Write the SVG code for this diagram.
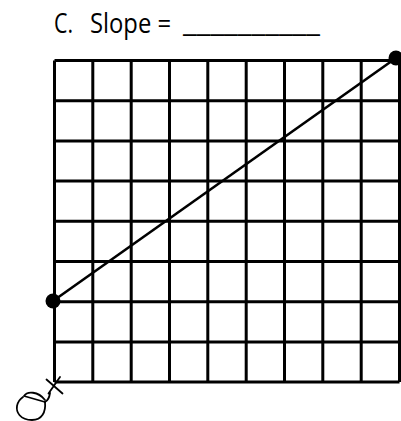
<svg xmlns="http://www.w3.org/2000/svg" width="401" height="421" viewBox="0 0 401 421">
<style>
.t{font-family:"Open Sans","Liberation Sans",sans-serif;font-size:27px;fill:#000}
.g{stroke:#000;stroke-width:3;fill:none}
.hw{stroke:#000;stroke-width:1.8;fill:none;stroke-linecap:round;stroke-linejoin:round}
</style>
<rect width="401" height="421" fill="#fff"/>
<g id="title">
<text class="t" x="54" y="33" textLength="19" lengthAdjust="spacingAndGlyphs">C.</text>
<text class="t" x="90" y="33" textLength="81" lengthAdjust="spacingAndGlyphs">Slope =</text>
<text class="t" x="183" y="32" textLength="137" lengthAdjust="spacingAndGlyphs">__________</text>
</g>
<g id="grid" class="g">
<path d="M54.5,60.5H399.5M54.5,100.7H399.5M54.5,140.9H399.5M54.5,181.1H399.5M54.5,221.3H399.5M54.5,261.5H399.5M54.5,301.7H399.5M54.5,341.9H399.5M54.5,382.1H399.5"/>
<path d="M54.5,60.5V382.1M92.8,60.5V382.1M131.2,60.5V382.1M169.5,60.5V382.1M207.8,60.5V382.1M246.2,60.5V382.1M284.5,60.5V382.1M322.8,60.5V382.1M361.2,60.5V382.1M399.5,60.5V382.1"/>
</g>
<g id="connectors">
<line x1="53" y1="301" x2="396" y2="58" stroke="#000" stroke-width="2.6"/>
</g>
<g id="point-a"><circle cx="53" cy="301" r="7.5" fill="#000"/></g>
<g id="point-b"><circle cx="396" cy="58" r="7.5" fill="#000"/></g>
<g id="handwriting" class="hw">
<path d="M46.5,379.5L62.5,393.5M48.5,393.5L60,377"/>
<path d="M50,393Q49,400 45,402"/>
<path d="M45,402L24,396C27,391 38,391 45,400"/>
<path d="M45,402C46,412 42,420 32,420C20,420 16,412 17,406C18,401 20,399 23,397"/>
</g>
</svg>
